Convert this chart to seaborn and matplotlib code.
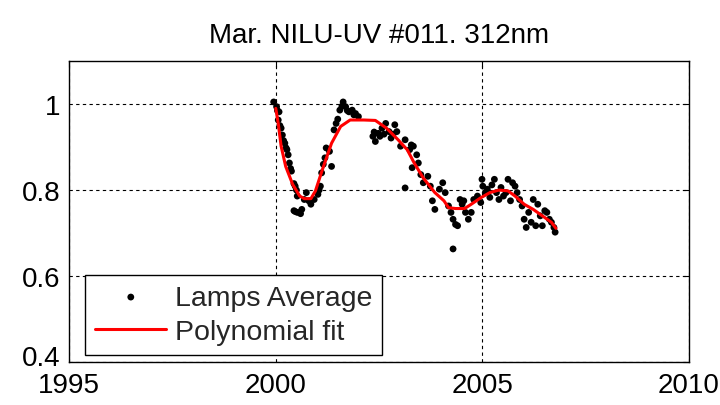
import matplotlib
matplotlib.use("Agg")
import matplotlib.pyplot as plt
import matplotlib.transforms as mtransforms
import seaborn as sns
import pandas as pd

# ---- data ----
lamp_years = [
    1999.95, 2000.02, 2000.04, 2000.08, 2000.06, 2000.10, 2000.13, 2000.16, 2000.19, 2000.22,
    2000.25, 2000.27, 2000.30, 2000.33, 2000.36, 2000.38, 2000.44, 2000.47, 2000.50, 2000.52,
    2000.44, 2000.47, 2000.52, 2000.58, 2000.63, 2000.60, 2000.69, 2000.74, 2000.80, 2000.85,
    2000.93, 2001.02, 2001.05, 2001.08, 2001.11, 2001.15, 2001.19, 2001.22, 2001.30, 2001.35,
    2001.41, 2001.46, 2001.50, 2001.55, 2001.63, 2001.60, 2001.69, 2001.73, 2001.77, 2001.85,
    2001.89, 2001.93, 2002.00, 2002.35, 2002.38, 2002.41, 2002.48, 2002.52, 2002.57, 2002.62,
    2002.66, 2002.74, 2002.79, 2002.84, 2002.88, 2002.93, 2003.02, 2003.13, 2003.24, 2003.28,
    2003.33, 2003.41, 2003.30, 2003.13, 2003.45, 2003.51, 2003.57, 2003.68, 2003.74, 2003.79,
    2003.85, 2003.96, 2004.04, 2004.10, 2004.18, 2004.24, 2004.29, 2004.29, 2004.35, 2004.40,
    2004.46, 2004.51, 2004.55, 2004.59, 2004.66, 2004.73, 2004.79, 2004.88, 2004.96, 2005.01,
    2004.99, 2005.07, 2005.12, 2005.18, 2005.23, 2005.29, 2005.34, 2005.40, 2005.45, 2005.51,
    2005.57, 2005.62, 2005.68, 2005.73, 2005.79, 2005.84, 2005.90, 2005.96, 2006.01, 2006.06,
    2006.12, 2006.18, 2006.23, 2006.29, 2006.34, 2006.40, 2006.45, 2006.51, 2006.56, 2006.62,
    2006.67, 2006.73, 2006.76,
]
lamp_values = [
    1.005, 0.994, 0.985, 0.982, 0.963, 0.950, 0.944, 0.928, 0.915, 0.909,
    0.898, 0.894, 0.882, 0.863, 0.850, 0.844, 0.815, 0.809, 0.800, 0.786,
    0.752, 0.750, 0.748, 0.748, 0.755, 0.745, 0.778, 0.794, 0.775, 0.767,
    0.778, 0.790, 0.800, 0.809, 0.840, 0.860, 0.875, 0.898, 0.890, 0.855,
    0.940, 0.955, 0.965, 0.986, 1.005, 0.995, 0.994, 0.985, 0.982, 0.986,
    0.975, 0.978, 0.971, 0.925, 0.935, 0.913, 0.932, 0.925, 0.944, 0.930,
    0.955, 0.936, 0.921, 0.930, 0.952, 0.936, 0.902, 0.917, 0.894, 0.905,
    0.902, 0.882, 0.852, 0.805, 0.863, 0.836, 0.817, 0.832, 0.809, 0.775,
    0.755, 0.802, 0.817, 0.794, 0.763, 0.748, 0.732, 0.663, 0.720, 0.717,
    0.778, 0.767, 0.775, 0.748, 0.732, 0.748, 0.778, 0.786, 0.771, 0.809,
    0.825, 0.794, 0.802, 0.783, 0.812, 0.825, 0.794, 0.778, 0.806, 0.786,
    0.794, 0.825, 0.775, 0.817, 0.809, 0.794, 0.778, 0.763, 0.732, 0.713,
    0.748, 0.725, 0.778, 0.717, 0.767, 0.740, 0.717, 0.752, 0.748, 0.732,
    0.725, 0.713, 0.702,
]

fit_years = [
    2000.00, 2000.06, 2000.13, 2000.24, 2000.41, 2000.58, 2000.69, 2000.85, 2000.96, 2001.13,
    2001.35, 2001.57, 2001.80, 2002.13, 2002.41, 2002.68, 2002.96, 2003.18, 2003.35, 2003.57,
    2003.85, 2004.07, 2004.18, 2004.35, 2004.57, 2004.73, 2004.96, 2005.18, 2005.40, 2005.62,
    2005.79, 2006.01, 2006.23, 2006.45, 2006.67, 2006.78,
]
fit_values = [
    0.990, 0.955, 0.902, 0.855, 0.813, 0.786, 0.780, 0.780, 0.798, 0.848,
    0.909, 0.948, 0.963, 0.963, 0.962, 0.944, 0.917, 0.894, 0.863, 0.828,
    0.794, 0.775, 0.759, 0.757, 0.757, 0.767, 0.782, 0.794, 0.800, 0.798,
    0.786, 0.767, 0.755, 0.740, 0.725, 0.711,
]

x_ticks = [1995, 2000, 2005, 2010]
x_tick_labels = ["1995", "2000", "2005", "2010"]
y_ticks = [0.4, 0.6, 0.8, 1.0]
y_tick_labels = ["0.4", "0.6", "0.8", "1"]

title = "Mar. NILU-UV #011. 312nm"

# ---- plot ----
sns.set_style("white")
plt.rcParams["font.family"] = ["Liberation Sans", "DejaVu Sans"]

fig = plt.figure(figsize=(7.2, 4.06), dpi=100)
ax = fig.add_axes([0.096, 0.106, 0.861, 0.741])

lamps = pd.DataFrame({"year": lamp_years, "value": lamp_values})
fit = pd.DataFrame({"year": fit_years, "value": fit_values})

sns.scatterplot(data=lamps, x="year", y="value", ax=ax, color="black", s=24,
                edgecolor="none", label="Lamps Average", zorder=3)
sns.lineplot(data=fit, x="year", y="value", ax=ax, color="red", linewidth=2.2,
             label="Polynomial fit", sort=False, estimator=None, zorder=4)

ax.set_xlim(1995, 2010)
ax.set_ylim(0.4, 1.1)
ax.set_xticks(x_ticks)
ax.set_xticklabels(x_tick_labels)
ax.set_yticks(y_ticks)
ax.set_yticklabels(y_tick_labels)
ax.set_xlabel("")
ax.set_ylabel("")

ax.grid(True, color="black", linestyle=(0, (3, 3)), linewidth=0.8)
ax.set_axisbelow(True)
for s in ax.spines.values():
    s.set_color("black")
    s.set_linewidth(1.0)
    s.set_visible(True)

ax.tick_params(axis="both", direction="in", length=4, width=0.8, colors="black",
               top=True, right=True, labelsize=20, labelcolor="black")
ax.tick_params(axis="x", pad=7)
ax.tick_params(axis="y", pad=6)

# nudge the lowest y label up a little so it does not collide with "1995"
lowest = ax.get_yticklabels()[0]
lowest.set_transform(lowest.get_transform() +
                     mtransforms.ScaledTranslation(0, 5 / 72, fig.dpi_scale_trans))

ax.set_title(title, fontsize=20, color="black", pad=14)

leg = ax.legend(loc="lower left", bbox_to_anchor=(0.026, 0.023), borderaxespad=0,
                fontsize=20.5, frameon=True, fancybox=False, edgecolor="black",
                handlelength=2.5, handletextpad=0.3, labelspacing=0.3,
                borderpad=0.35, markerscale=1.0)
leg.get_frame().set_linewidth(1.0)
leg.get_frame().set_alpha(1)

fig.savefig("out.png", dpi=100)
